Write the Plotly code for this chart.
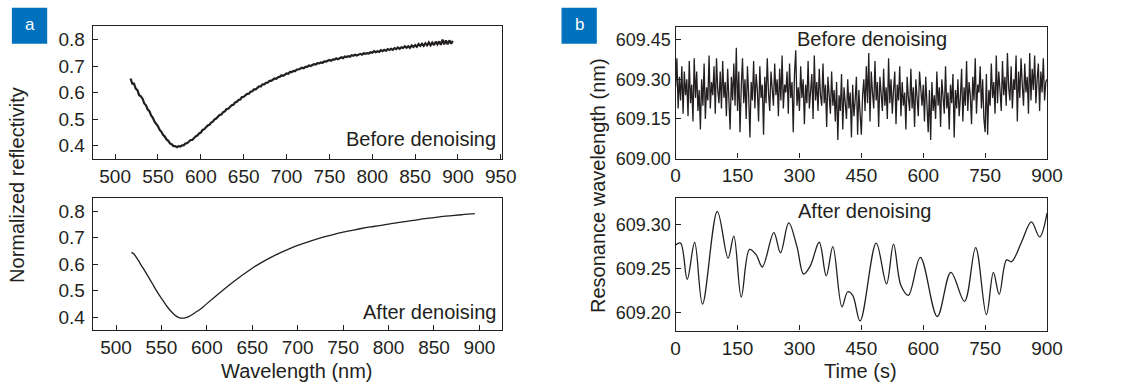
import plotly.graph_objects as go

W, H = 1134, 391
INK = "#231f20"
FONT = "Arial, Liberation Sans, Helvetica, sans-serif"

# ---------------- data ----------------
wl_before = list(range(518, 895, 2))
refl_before = [
    0.653, 0.634, 0.634, 0.615, 0.609, 0.590, 0.586, 0.577, 0.559, 0.552,
    0.536, 0.530, 0.514, 0.505, 0.490, 0.482, 0.473, 0.459, 0.452, 0.440,
    0.434, 0.423, 0.418, 0.408, 0.405, 0.398, 0.398, 0.394, 0.398, 0.396,
    0.401, 0.401, 0.408, 0.409, 0.415, 0.421, 0.421, 0.429, 0.435, 0.438,
    0.446, 0.449, 0.459, 0.462, 0.469, 0.476, 0.478, 0.487, 0.490, 0.499,
    0.502, 0.509, 0.516, 0.517, 0.526, 0.529, 0.538, 0.539, 0.547, 0.552,
    0.554, 0.563, 0.565, 0.572, 0.574, 0.583, 0.584, 0.590, 0.595, 0.596,
    0.603, 0.605, 0.612, 0.612, 0.619, 0.623, 0.623, 0.631, 0.631, 0.637,
    0.637, 0.644, 0.644, 0.649, 0.653, 0.652, 0.658, 0.659, 0.665, 0.663,
    0.669, 0.672, 0.671, 0.678, 0.677, 0.682, 0.681, 0.687, 0.687, 0.691,
    0.694, 0.692, 0.697, 0.697, 0.702, 0.700, 0.705, 0.707, 0.706, 0.711,
    0.710, 0.714, 0.712, 0.718, 0.717, 0.720, 0.723, 0.720, 0.725, 0.724,
    0.729, 0.726, 0.731, 0.733, 0.730, 0.736, 0.734, 0.737, 0.735, 0.741,
    0.739, 0.743, 0.740, 0.744, 0.746, 0.743, 0.748, 0.746, 0.749, 0.747,
    0.752, 0.750, 0.756, 0.752, 0.756, 0.753, 0.760, 0.756, 0.761, 0.757,
    0.764, 0.761, 0.765, 0.761, 0.768, 0.764, 0.770, 0.765, 0.771, 0.768,
    0.775, 0.769, 0.775, 0.769, 0.778, 0.772, 0.779, 0.773, 0.783, 0.776,
    0.784, 0.776, 0.786, 0.778, 0.789, 0.778, 0.789, 0.779, 0.792, 0.782,
    0.793, 0.780, 0.800, 0.782, 0.797, 0.782, 0.797, 0.784, 0.795,
]

wl_after = [517, 520, 524, 528, 532, 536, 540, 544, 548, 552, 556, 560, 564,
            568, 572, 576, 580, 584, 588, 592, 596, 600, 610, 620, 630, 640,
            650, 660, 670, 680, 690, 700, 710, 720, 730, 740, 750, 760, 770,
            780, 790, 800, 810, 820, 830, 840, 850, 860, 870, 880, 890, 895]
refl_after = [0.645, 0.638, 0.617, 0.595, 0.573, 0.550, 0.527, 0.503, 0.481,
              0.461, 0.441, 0.424, 0.410, 0.400, 0.396, 0.397, 0.402, 0.410,
              0.419, 0.428, 0.439, 0.451, 0.480, 0.508, 0.536, 0.561, 0.585,
              0.606, 0.625, 0.642, 0.657, 0.671, 0.683, 0.694, 0.704, 0.713,
              0.721, 0.728, 0.735, 0.741, 0.746, 0.752, 0.757, 0.762, 0.767,
              0.772, 0.776, 0.781, 0.784, 0.787, 0.790, 0.791]

time_before = list(range(0, 901, 3))
res_before = [
    609.27, 609.38, 609.19, 609.31, 609.22, 609.35, 609.17, 609.33, 609.24, 609.30,
    609.16, 609.37, 609.21, 609.28, 609.14, 609.38, 609.23, 609.33, 609.18, 609.26,
    609.11, 609.30, 609.20, 609.36, 609.15, 609.27, 609.22, 609.39, 609.19, 609.29,
    609.24, 609.35, 609.17, 609.38, 609.26, 609.21, 609.33, 609.19, 609.37, 609.23,
    609.29, 609.16, 609.34, 609.25, 609.11, 609.31, 609.22, 609.36, 609.20, 609.42,
    609.18, 609.33, 609.10, 609.27, 609.38, 609.21, 609.30, 609.15, 609.35, 609.24,
    609.08, 609.29, 609.22, 609.37, 609.19, 609.32, 609.26, 609.14, 609.35, 609.23,
    609.28, 609.09, 609.31, 609.21, 609.38, 609.25, 609.18, 609.33, 609.27, 609.20,
    609.36, 609.24, 609.30, 609.16, 609.34, 609.22, 609.39, 609.19, 609.28, 609.25,
    609.33, 609.17, 609.36, 609.23, 609.29, 609.10, 609.32, 609.41, 609.20, 609.27,
    609.18, 609.35, 609.23, 609.30, 609.13, 609.28, 609.21, 609.37, 609.19, 609.26,
    609.32, 609.15, 609.39, 609.22, 609.29, 609.18, 609.34, 609.24, 609.20, 609.36,
    609.21, 609.28, 609.12, 609.31, 609.23, 609.17, 609.33, 609.20, 609.26, 609.14,
    609.29, 609.07, 609.24, 609.18, 609.32, 609.11, 609.27, 609.21, 609.15, 609.30,
    609.19, 609.25, 609.08, 609.28, 609.16, 609.22, 609.31, 609.09, 609.26, 609.17,
    609.09, 609.24, 609.30, 609.18, 609.35, 609.21, 609.40, 609.14, 609.33, 609.25,
    609.19, 609.37, 609.22, 609.29, 609.12, 609.31, 609.24, 609.18, 609.34, 609.20,
    609.27, 609.15, 609.38, 609.21, 609.30, 609.17, 609.26, 609.33, 609.13, 609.28,
    609.22, 609.35, 609.16, 609.29, 609.20, 609.25, 609.11, 609.31, 609.23, 609.18,
    609.34, 609.19, 609.27, 609.12, 609.30, 609.22, 609.16, 609.33, 609.24, 609.20,
    609.28, 609.14, 609.31, 609.21, 609.10, 609.26, 609.07, 609.29, 609.18, 609.24,
    609.15, 609.33, 609.20, 609.27, 609.12, 609.30, 609.22, 609.17, 609.35, 609.19,
    609.25, 609.11, 609.28, 609.21, 609.32, 609.08, 609.26, 609.19, 609.30, 609.16,
    609.23, 609.34, 609.14, 609.27, 609.20, 609.37, 609.18, 609.29, 609.24, 609.13,
    609.31, 609.22, 609.38, 609.17, 609.28, 609.25, 609.35, 609.19, 609.30, 609.15,
    609.10, 609.32, 609.09, 609.26, 609.20, 609.36, 609.23, 609.29, 609.17, 609.39,
    609.21, 609.33, 609.26, 609.18, 609.37, 609.24, 609.31, 609.20, 609.40, 609.27,
    609.22, 609.35, 609.19, 609.30, 609.26, 609.39, 609.14, 609.33, 609.23, 609.38,
    609.28, 609.20, 609.36, 609.25, 609.31, 609.17, 609.40, 609.22, 609.34, 609.26,
    609.39, 609.21, 609.30, 609.36, 609.18, 609.33, 609.25, 609.38, 609.22, 609.29,
    609.30,
]

time_after = [0, 12, 28, 46, 65, 101, 127, 141, 159, 179, 195, 210, 238, 254,
              274, 294, 310, 326, 348, 365, 381, 403, 417, 429, 447, 486, 511,
              528, 546, 564, 593, 634, 667, 700, 727, 753, 770, 784, 802, 814,
              838, 862, 882, 900]
res_after = [609.277, 609.279, 609.238, 609.280, 609.210, 609.315, 609.262,
             609.287, 609.218, 609.272, 609.266, 609.252, 609.291, 609.268,
             609.302, 609.275, 609.244, 609.253, 609.280, 609.242, 609.275,
             609.207, 609.224, 609.220, 609.191, 609.279, 609.233, 609.278,
             609.231, 609.220, 609.263, 609.196, 609.246, 609.213, 609.274,
             609.198, 609.246, 609.221, 609.260, 609.258, 609.280, 609.303,
             609.286, 609.313]

wl_ticks_top = [500, 550, 600, 650, 700, 750, 800, 850, 900, 950]
wl_ticks_bottom = [500, 550, 600, 650, 700, 750, 800, 850, 900]
refl_ticks = [0.4, 0.5, 0.6, 0.7, 0.8]
time_ticks = [0, 150, 300, 450, 600, 750, 900]
res_ticks_top = [609.00, 609.15, 609.30, 609.45]
res_ticks_bottom = [609.20, 609.25, 609.30]


def px(x):
    return x / W


def py(y):
    return 1 - y / H


fig = go.Figure()
fig.add_trace(go.Scatter(x=wl_before, y=refl_before, mode="lines",
                         line=dict(color=INK, width=2.2), xaxis="x", yaxis="y"))
fig.add_trace(go.Scatter(x=wl_after, y=refl_after, mode="lines",
                         line=dict(color=INK, width=1.3, shape="spline"),
                         xaxis="x2", yaxis="y2"))
fig.add_trace(go.Scatter(x=time_before, y=res_before, mode="lines",
                         line=dict(color=INK, width=1.3), xaxis="x3", yaxis="y3"))
fig.add_trace(go.Scatter(x=time_after, y=res_after, mode="lines",
                         line=dict(color=INK, width=1.3, shape="spline", smoothing=1.0),
                         xaxis="x4", yaxis="y4"))

common = dict(showline=True, linecolor=INK, linewidth=1.3, mirror=True,
              ticks="inside", ticklen=5, tickwidth=1.1, tickcolor=INK,
              showgrid=False, zeroline=False,
              tickfont=dict(family=FONT, size=19, color=INK))
bfont = dict(family=FONT, size=18, color=INK)

fig.update_layout(
    width=W, height=H, margin=dict(l=0, r=0, t=0, b=0),
    paper_bgcolor="white", plot_bgcolor="white", showlegend=False,
    xaxis=dict(common, domain=[px(89.5), px(506.5)], range=[474, 951.5],
               tickvals=wl_ticks_top, anchor="y"),
    yaxis=dict(common, domain=[py(163), py(27)], range=[0.35, 0.85],
               tickvals=refl_ticks, anchor="x", ticklabelstandoff=3),
    xaxis2=dict(common, domain=[px(89.5), px(506.5)], range=[474.5, 925],
                tickvals=wl_ticks_bottom, anchor="y2"),
    yaxis2=dict(common, domain=[py(339), py(203.3)], range=[0.35, 0.85],
                tickvals=refl_ticks, anchor="x2", ticklabelstandoff=3),
    xaxis3=dict(common, domain=[px(683.3), px(1061.7)], range=[0, 900],
                tickvals=time_ticks, anchor="y3"),
    yaxis3=dict(common, domain=[py(162.7), py(27.3)], range=[609.0, 609.5],
                tickvals=res_ticks_top, tickformat=".2f", anchor="x3",
                tickfont=bfont),
    xaxis4=dict(common, domain=[px(683.3), px(1061.7)], range=[0, 900],
                tickvals=time_ticks, anchor="y4"),
    yaxis4=dict(common, domain=[py(339.3), py(203.3)], range=[609.18, 609.33],
                tickvals=res_ticks_bottom, tickformat=".2f", anchor="x4",
                tickfont=bfont),
)

txt = dict(family=FONT, size=20, color=INK)
annots = [
    dict(text="Before denoising", x=px(502), y=py(143), xanchor="right", yanchor="middle"),
    dict(text="After denoising", x=px(502), y=py(320), xanchor="right", yanchor="middle"),
    dict(text="Before denoising", x=px(883), y=py(40), xanchor="center", yanchor="middle"),
    dict(text="After denoising", x=px(876), y=py(217), xanchor="center", yanchor="middle"),
    dict(text="Wavelength (nm)", x=px(298), y=py(381), xanchor="center", yanchor="middle"),
    dict(text="Time (s)", x=px(872), y=py(381), xanchor="center", yanchor="middle"),
    dict(text="Normalized reflectivity", x=px(12), y=py(190), xanchor="center",
         yanchor="middle", textangle=-90),
    dict(text="Resonance wavelength (nm)", x=px(604), y=py(190), xanchor="center",
         yanchor="middle", textangle=-90),
]
for a in annots:
    fig.add_annotation(xref="paper", yref="paper", showarrow=False, font=txt, **a)

# panel labels
BLUE = "#0071bc"
for lab, x0 in (("a", 7), ("b", 567)):
    fig.add_shape(type="rect", xref="paper", yref="paper",
                  x0=px(x0), x1=px(x0 + 36), y0=py(45), y1=py(8),
                  fillcolor=BLUE, line=dict(width=0))
    fig.add_annotation(xref="paper", yref="paper", showarrow=False,
                       x=px(x0 + 18), y=py(25), text=lab,
                       font=dict(family=FONT, size=17, color="white"),
                       xanchor="center", yanchor="middle")

fig.write_html("out.html")
